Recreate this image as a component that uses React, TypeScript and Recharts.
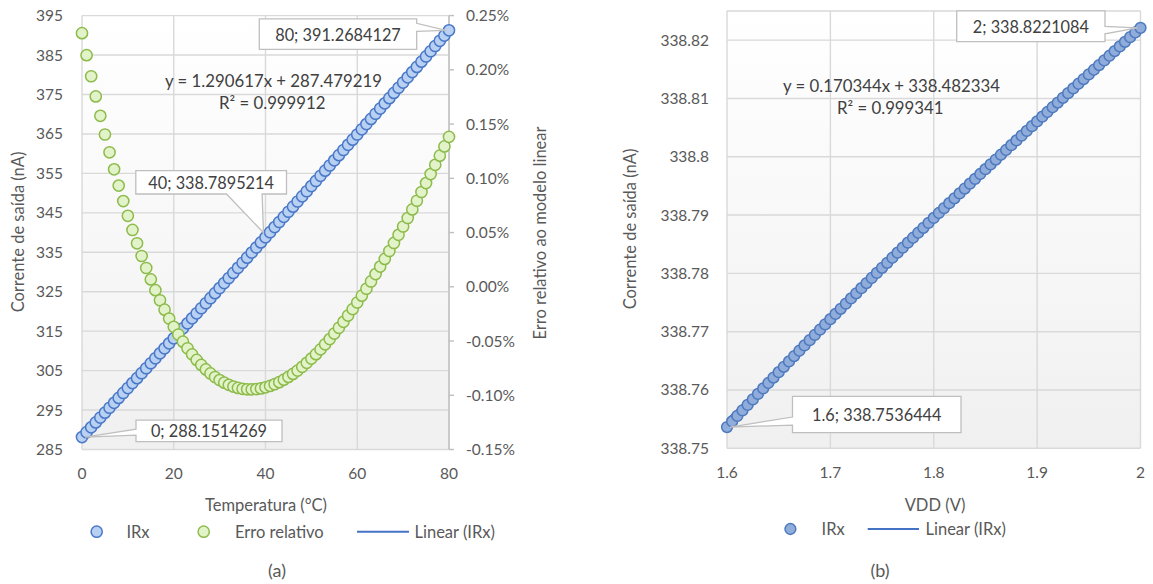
import React from 'react';
import { ScatterChart, Scatter, XAxis, YAxis, CartesianGrid } from 'recharts';

// ---------- (a) output current vs temperature ----------
const temperatures = [
  0, 1, 2, 3, 4, 5, 6, 7, 8, 9, 10, 11, 12, 13, 14, 15, 16, 17, 18, 19, 20,
  21, 22, 23, 24, 25, 26, 27, 28, 29, 30, 31, 32, 33, 34, 35, 36, 37, 38, 39, 40,
  41, 42, 43, 44, 45, 46, 47, 48, 49, 50, 51, 52, 53, 54, 55, 56, 57, 58, 59, 60,
  61, 62, 63, 64, 65, 66, 67, 68, 69, 70, 71, 72, 73, 74, 75, 76, 77, 78, 79, 80,
];

// IRx (nA)
const irxTemp = [
  288.1514269, 289.3865, 290.6235, 291.8623, 293.1029, 294.3451, 295.5891, 296.8347, 298.0821, 299.3312,
  300.5819, 301.8342, 303.0881, 304.3436, 305.6008, 306.8595, 308.1197, 309.3815, 310.6447, 311.9095,
  313.1759, 314.4436, 315.7128, 316.9835, 318.2556, 319.5291, 320.804, 322.0802, 323.3578, 324.6368,
  325.9171, 327.1987, 328.4816, 329.7658, 331.0512, 332.3379, 333.6258, 334.9149, 336.2053, 337.4968,
  338.7895214, 340.0833, 341.3783, 342.6744, 343.9716, 345.2698, 346.5692, 347.8696, 349.171, 350.4735,
  351.7769, 353.0814, 354.3868, 355.6931, 357.0005, 358.3088, 359.6179, 360.9279, 362.2388, 363.5506,
  364.8632, 366.1767, 367.491, 368.806, 370.1219, 371.4385, 372.7558, 374.074, 375.3927, 376.7122,
  378.0324, 379.3532, 380.6747, 381.9969, 383.3196, 384.643, 385.9669, 387.2914, 388.6164, 389.9421,
  391.2684127,
];

// Relative error to the linear model (%)
const relError = [
  0.2338, 0.2135, 0.1941, 0.1755, 0.1576, 0.1404, 0.124, 0.1083, 0.0933, 0.079,
  0.0654, 0.0524, 0.0401, 0.0284, 0.0173, 0.0068, -0.0031, -0.0124, -0.0211, -0.0293,
  -0.0369, -0.044, -0.0506, -0.0567, -0.0623, -0.0674, -0.072, -0.0762, -0.0799, -0.0832,
  -0.086, -0.0884, -0.0904, -0.092, -0.0932, -0.0941, -0.0945, -0.0946, -0.0943, -0.0937,
  -0.0927, -0.0914, -0.0898, -0.0879, -0.0856, -0.0831, -0.0803, -0.0772, -0.0738, -0.0701,
  -0.0662, -0.0621, -0.0577, -0.053, -0.0482, -0.0431, -0.0378, -0.0323, -0.0265, -0.0206,
  -0.0145, -0.0082, -0.0018, 0.0049, 0.0117, 0.0186, 0.0257, 0.033, 0.0404, 0.0479,
  0.0556, 0.0634, 0.0713, 0.0793, 0.0874, 0.0956, 0.1039, 0.1124, 0.1209, 0.1294,
  0.1382,
];

const tempTicks = [0, 20, 40, 60, 80];
const currentTicksA = [285, 295, 305, 315, 325, 335, 345, 355, 365, 375, 385, 395];
const errorTicks = [-0.15, -0.1, -0.05, 0, 0.05, 0.1, 0.15, 0.2, 0.25];
const trendA = { slope: 1.290617, intercept: 287.479219, r2: '0.999912' };
const labeledA = [0, 40, 80];

// ---------- (b) output current vs supply voltage ----------
const vddValues = [
  1.6, 1.605, 1.61, 1.615, 1.62, 1.625, 1.63, 1.635, 1.64, 1.645,
  1.65, 1.655, 1.66, 1.665, 1.67, 1.675, 1.68, 1.685, 1.69, 1.695,
  1.7, 1.705, 1.71, 1.715, 1.72, 1.725, 1.73, 1.735, 1.74, 1.745,
  1.75, 1.755, 1.76, 1.765, 1.77, 1.775, 1.78, 1.785, 1.79, 1.795,
  1.8, 1.805, 1.81, 1.815, 1.82, 1.825, 1.83, 1.835, 1.84, 1.845,
  1.85, 1.855, 1.86, 1.865, 1.87, 1.875, 1.88, 1.885, 1.89, 1.895,
  1.9, 1.905, 1.91, 1.915, 1.92, 1.925, 1.93, 1.935, 1.94, 1.945,
  1.95, 1.955, 1.96, 1.965, 1.97, 1.975, 1.98, 1.985, 1.99, 1.995,
  2,
];

const irxVdd = [
  338.7536444, 338.754601, 338.755556, 338.756505, 338.757451, 338.758394, 338.759333, 338.760269, 338.761202, 338.762131,
  338.763057, 338.76398, 338.764899, 338.765816, 338.766729, 338.76764, 338.768547, 338.769451, 338.770352, 338.771251,
  338.772146, 338.773039, 338.773929, 338.774816, 338.7757, 338.776582, 338.777461, 338.778337, 338.779211, 338.780082,
  338.780951, 338.781818, 338.782682, 338.783543, 338.784403, 338.78526, 338.786114, 338.786967, 338.787818, 338.788666,
  338.789512, 338.790356, 338.791198, 338.792039, 338.792877, 338.793713, 338.794548, 338.795381, 338.796212, 338.797041,
  338.797869, 338.798694, 338.799519, 338.800342, 338.801163, 338.801982, 338.802801, 338.803618, 338.804433, 338.805247,
  338.80606, 338.806872, 338.807682, 338.808492, 338.8093, 338.810107, 338.810913, 338.811718, 338.812522, 338.813325,
  338.814127, 338.814928, 338.815729, 338.816529, 338.817328, 338.818126, 338.818924, 338.819721, 338.820517, 338.821313,
  338.8221084,
];

const vddTicks = [1.6, 1.7, 1.8, 1.9, 2];
const currentTicksB = [338.75, 338.76, 338.77, 338.78, 338.79, 338.8, 338.81, 338.82];
const trendB = { slope: 0.170344, intercept: 338.482334, r2: '0.999341' };
const labeledB = [0, 80];

// ---------- styling ----------
const FONT = 'Lato, "Open Sans", sans-serif';
const TXT = '#595959';
const LABEL_TXT = '#404040';
const GRID = '#d9d9d9';
const FS = 15.5;
const FS_LABEL = 16.3;
const FS_EQ = 16.8;
const FS_TITLE = 16.5;
const tickStyle = { fill: TXT, fontSize: FS, fontFamily: FONT };

const BLUE_LINE = '#4472C4';
const A_BLUE = { fill: '#B8D0F2', stroke: '#4A78C8' };
const A_GREEN = { fill: '#E3F3C9', stroke: '#8DBB4C' };
const B_BLUE = { fill: '#90ACDA', stroke: '#4D79BE' };

type Pt = { x: number; y: number };
const zip = (xs: number[], ys: number[]): Pt[] => xs.map((x, i) => ({ x, y: ys[i] }));

const seriesA = zip(temperatures, irxTemp);
const errSeries = zip(temperatures, relError);
const seriesB = zip(vddValues, irxVdd);

const trendLine = (xs: number[], t: { slope: number; intercept: number }): Pt[] => {
  const lo = xs[0];
  const hi = xs[xs.length - 1];
  return [
    { x: lo, y: t.intercept + t.slope * lo },
    { x: hi, y: t.intercept + t.slope * hi },
  ];
};

const fmtEq = (t: { slope: number; intercept: number }) =>
  `y = ${t.slope.toFixed(6)}x + ${t.intercept.toFixed(6)}`;

const marker = (c: { fill: string; stroke: string }, r = 5.6) => (props: any) => {
  if (props.cx == null || props.cy == null) return <g />;
  return <circle cx={props.cx} cy={props.cy} r={r} fill={c.fill} stroke={c.stroke} strokeWidth={1.5} />;
};
const noMarker = () => <g />;

// Callout box geometry, relative to the labelled point
type Callout = {
  box: [number, number, number, number];
  side: 'left' | 'right' | 'bottom';
  base: [number, number];
  tip: [number, number];
};

const calloutsA: Record<number, Callout> = {
  0: { box: [54, -17, 200, 4.6], side: 'left', base: [-8, -2], tip: [3, 0] },
  40: { box: [-129.7, -66.6, 21, -43.3], side: 'bottom', base: [-39, -3.4], tip: [-2, -4.6] },
  80: { box: [-189.7, -11.5, -32.3, 19], side: 'right', base: [-7, 1], tip: [-3, 0] },
};
const calloutsB: Record<number, Callout> = {
  1.6: { box: [65.5, -30.6, 234, 5.6], side: 'left', base: [-10, -2], tip: [3, 0] },
  2: { box: [-183.8, -16.9, -35.5, 13.8], side: 'right', base: [-1.5, 6], tip: [-3, 0] },
};

const calloutShape = (defs: Record<number, Callout>) => (props: any) => {
  const { cx, cy, payload } = props;
  if (cx == null || cy == null || !payload) return <g />;
  const c = defs[payload.x];
  if (!c) return <g />;
  const x1 = cx + c.box[0];
  const y1 = cy + c.box[1];
  const x2 = cx + c.box[2];
  const y2 = cy + c.box[3];
  const tx = cx + c.tip[0];
  const ty = cy + c.tip[1];
  let d = '';
  if (c.side === 'right') {
    d = `M${x1},${y1} H${x2} V${cy + c.base[0]} L${tx},${ty} L${x2},${cy + c.base[1]} V${y2} H${x1} Z`;
  } else if (c.side === 'left') {
    d = `M${x1},${y1} H${x2} V${y2} H${x1} V${cy + c.base[1]} L${tx},${ty} L${x1},${cy + c.base[0]} Z`;
  } else {
    d = `M${x1},${y1} H${x2} V${y2} H${cx + c.base[1]} L${tx},${ty} L${cx + c.base[0]},${y2} H${x1} Z`;
  }
  return (
    <g>
      <path d={d} fill="#ffffff" stroke="#bfbfbf" strokeWidth={1.3} />
      <text
        x={(x1 + x2) / 2}
        y={(y1 + y2) / 2}
        textAnchor="middle"
        dominantBaseline="central"
        fill={LABEL_TXT}
        fontSize={FS_LABEL}
        fontFamily={FONT}
      >
        {`${payload.x}; ${payload.y}`}
      </text>
    </g>
  );
};

function ChartTemperature() {
  return (
    <ScatterChart width={560} height={500} margin={{ top: 15.6, right: 0, bottom: 0, left: 0 }}>
      <CartesianGrid stroke={GRID} strokeWidth={1.4} xAxisId="t" yAxisId="cur" />
      <XAxis
        xAxisId="t"
        type="number"
        dataKey="x"
        domain={[0, 80]}
        ticks={tempTicks}
        interval={0}
        height={50.5}
        axisLine={false}
        tickLine={false}
        tickSize={0}
        tickMargin={18}
        tick={tickStyle}
      />
      <YAxis
        yAxisId="cur"
        type="number"
        dataKey="y"
        domain={[285, 395]}
        ticks={currentTicksA}
        interval={0}
        width={82}
        axisLine={false}
        tickLine={false}
        tickSize={0}
        tickMargin={19}
        tick={tickStyle}
      />
      <YAxis
        yAxisId="err"
        orientation="right"
        type="number"
        dataKey="y"
        domain={[-0.15, 0.25]}
        ticks={errorTicks}
        interval={0}
        width={111}
        axisLine={{ stroke: '#bfbfbf', strokeWidth: 1.4 }}
        tickLine={{ stroke: '#bfbfbf', strokeWidth: 1.4 }}
        tickSize={5}
        tickMargin={12}
        tick={tickStyle}
        tickFormatter={(v: number) => `${v.toFixed(2)}%`}
      />
      <Scatter
        xAxisId="t"
        yAxisId="cur"
        data={trendLine(temperatures, trendA)}
        line={{ stroke: BLUE_LINE, strokeWidth: 2 }}
        shape={noMarker}
        isAnimationActive={false}
      />
      <Scatter xAxisId="t" yAxisId="cur" data={seriesA} shape={marker(A_BLUE)} isAnimationActive={false} />
      <Scatter xAxisId="t" yAxisId="err" data={errSeries} shape={marker(A_GREEN)} isAnimationActive={false} />
      <Scatter
        xAxisId="t"
        yAxisId="cur"
        data={labeledA.map((i) => seriesA[i])}
        shape={calloutShape(calloutsA)}
        isAnimationActive={false}
      />
    </ScatterChart>
  );
}

function ChartVdd() {
  return (
    <ScatterChart width={553} height={500} margin={{ top: 11, right: 12.5, bottom: 0, left: 0 }}>
      <CartesianGrid stroke={GRID} strokeWidth={1.4} xAxisId="v" yAxisId="cur" />
      <XAxis
        xAxisId="v"
        type="number"
        dataKey="x"
        domain={[1.6, 2]}
        ticks={vddTicks}
        interval={0}
        height={51.7}
        axisLine={false}
        tickLine={false}
        tickSize={0}
        tickMargin={19}
        tick={tickStyle}
      />
      <YAxis
        yAxisId="cur"
        type="number"
        dataKey="y"
        domain={[338.75, 338.825]}
        ticks={currentTicksB}
        interval={0}
        width={127}
        axisLine={false}
        tickLine={false}
        tickSize={0}
        tickMargin={18}
        tick={tickStyle}
        tickFormatter={(v: number) => String(v)}
      />
      <Scatter
        xAxisId="v"
        yAxisId="cur"
        data={trendLine(vddValues, trendB)}
        line={{ stroke: BLUE_LINE, strokeWidth: 2 }}
        shape={noMarker}
        isAnimationActive={false}
      />
      <Scatter xAxisId="v" yAxisId="cur" data={seriesB} shape={marker(B_BLUE, 5.4)} isAnimationActive={false} />
      <Scatter
        xAxisId="v"
        yAxisId="cur"
        data={labeledB.map((i) => seriesB[i])}
        shape={calloutShape(calloutsB)}
        isAnimationActive={false}
      />
    </ScatterChart>
  );
}

const plotBg = 'linear-gradient(to bottom, #ffffff 0%, #f7f7f7 55%, #f0f0f0 100%)';

export default function App() {
  const t = { fill: TXT, fontSize: FS_TITLE, fontFamily: FONT };
  const eq = { fill: LABEL_TXT, fontSize: FS_EQ, fontFamily: FONT };
  return (
    <div
      style={{
        position: 'absolute',
        left: 0,
        top: 0,
        width: 1153,
        height: 584,
        background: '#ffffff',
        fontFamily: FONT,
        overflow: 'hidden',
      }}
    >
      {/* plot area fills */}
      <div style={{ position: 'absolute', left: 82, top: 15.6, width: 367, height: 434.4, background: plotBg }} />
      <div style={{ position: 'absolute', left: 727, top: 11, width: 413.5, height: 437.3, background: plotBg }} />

      <div style={{ position: 'absolute', left: 0, top: 0 }}>
        <ChartTemperature />
      </div>
      <div style={{ position: 'absolute', left: 600, top: 0 }}>
        <ChartVdd />
      </div>

      <svg
        width={1153}
        height={584}
        style={{ position: 'absolute', left: 0, top: 0, pointerEvents: 'none' }}
      >
        {/* trendline equations */}
        <text x={165} y={80} dominantBaseline="central" {...eq}>{fmtEq(trendA)}</text>
        <text x={219} y={102} dominantBaseline="central" {...eq}>{`R² = ${trendA.r2}`}</text>
        <text x={783} y={85} dominantBaseline="central" {...eq}>{fmtEq(trendB)}</text>
        <text x={837} y={107} dominantBaseline="central" {...eq}>{`R² = ${trendB.r2}`}</text>

        {/* axis titles */}
        <text x={18} y={232} transform="rotate(-90 18 232)" textAnchor="middle" dominantBaseline="central" {...t}>
          Corrente de saída (nA)
        </text>
        <text x={540} y={233} transform="rotate(-90 540 233)" textAnchor="middle" dominantBaseline="central" {...t}>
          Erro relativo ao modelo linear
        </text>
        <text x={266} y={505} textAnchor="middle" dominantBaseline="central" {...t}>Temperatura (°C)</text>
        <text x={630} y={229} transform="rotate(-90 630 229)" textAnchor="middle" dominantBaseline="central" {...t}>
          Corrente de saída (nA)
        </text>
        <text x={935} y={505} textAnchor="middle" dominantBaseline="central" {...t}>VDD (V)</text>

        {/* legend (a) */}
        <circle cx={96.7} cy={531.7} r={5.6} fill={A_BLUE.fill} stroke={A_BLUE.stroke} strokeWidth={1.5} />
        <text x={126.4} y={531.7} dominantBaseline="central" {...t}>IRx</text>
        <circle cx={203.7} cy={531.7} r={5.6} fill={A_GREEN.fill} stroke={A_GREEN.stroke} strokeWidth={1.5} />
        <text x={235} y={531.7} dominantBaseline="central" {...t}>Erro relativo</text>
        <line x1={357} y1={531.7} x2={409} y2={531.7} stroke={BLUE_LINE} strokeWidth={2} />
        <text x={414.5} y={531.7} dominantBaseline="central" {...t}>Linear (IRx)</text>

        {/* legend (b) */}
        <circle cx={790.4} cy={529} r={5.4} fill={B_BLUE.fill} stroke={B_BLUE.stroke} strokeWidth={1.5} />
        <text x={821.6} y={529} dominantBaseline="central" {...t}>IRx</text>
        <line x1={867.7} y1={529} x2={919} y2={529} stroke={BLUE_LINE} strokeWidth={2} />
        <text x={925.5} y={529} dominantBaseline="central" {...t}>Linear (IRx)</text>

        {/* captions */}
        <text x={277} y={570} textAnchor="middle" dominantBaseline="central" fill={TXT} fontSize={18} fontFamily={FONT}>(a)</text>
        <text x={880} y={570} textAnchor="middle" dominantBaseline="central" fill={TXT} fontSize={18} fontFamily={FONT}>(b)</text>
      </svg>
    </div>
  );
}
